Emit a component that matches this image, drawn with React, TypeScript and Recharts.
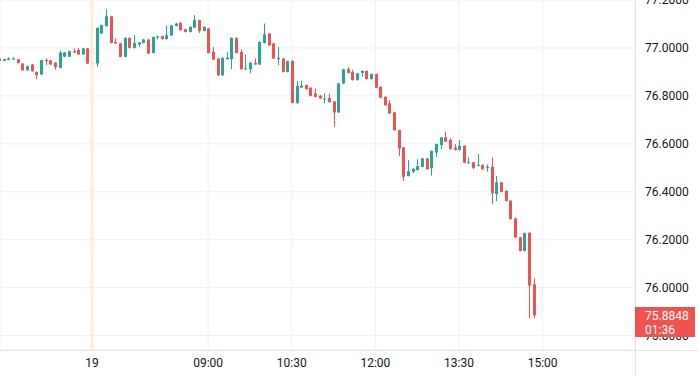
import React from "react";
import {
  ComposedChart,
  Bar,
  XAxis,
  YAxis,
  CartesianGrid,
  ReferenceLine,
} from "recharts";

// 5-minute candles
const OPEN = [
  76.956, 76.946, 76.95, 76.952, 76.953, 76.935, 76.907, 76.931, 76.9, 76.889,
  76.95, 76.948, 76.939, 76.917, 76.964, 76.964, 76.986, 76.992, 76.973, 76.998,
  76.935, 76.935, 77.06, 77.091, 77.132, 77.025, 77.019, 76.963, 77.042, 77.0,
  77.014, 77.021, 77.035, 76.979, 77.044, 77.049, 77.037, 77.052, 77.092, 77.104,
  77.078, 77.067, 77.085, 77.116, 77.071, 77.081, 76.984, 76.956, 76.886, 76.953,
  76.953, 77.042, 76.984, 76.911, 76.911, 76.938, 76.931, 77.021, 77.06, 77.019,
  76.953, 76.956, 76.9, 76.946, 76.771, 76.835, 76.845, 76.834, 76.81, 76.801,
  76.786, 76.792, 76.777, 76.731, 76.852, 76.911, 76.9, 76.866, 76.896, 76.904,
  76.87, 76.891, 76.838, 76.796, 76.769, 76.731, 76.657, 76.585, 76.466, 76.484,
  76.491, 76.504, 76.539, 76.498, 76.564, 76.595, 76.627, 76.616, 76.584, 76.574,
  76.592, 76.519, 76.523, 76.509, 76.512, 76.498, 76.504, 76.391, 76.439, 76.404,
  76.363, 76.289, 76.21, 76.153, 76.229, 76.014,
];
const HIGH = [
  76.958, 76.955, 76.961, 76.961, 76.955, 76.937, 76.926, 76.933, 76.902, 76.951,
  76.956, 76.95, 76.941, 76.989, 76.983, 76.988, 76.998, 77.0, 77.0, 77.0,
  76.937, 77.086, 77.097, 77.161, 77.134, 77.039, 77.021, 77.044, 77.044, 77.054,
  77.025, 77.037, 77.037, 77.048, 77.051, 77.051, 77.094, 77.096, 77.104, 77.11,
  77.08, 77.09, 77.137, 77.118, 77.09, 77.083, 77.004, 76.958, 76.961, 76.984,
  77.044, 77.044, 76.994, 76.973, 76.94, 76.956, 77.027, 77.102, 77.062, 77.021,
  77.004, 76.958, 76.947, 76.948, 76.863, 76.863, 76.847, 76.836, 76.831, 76.803,
  76.81, 76.81, 76.779, 76.854, 76.913, 76.919, 76.91, 76.896, 76.906, 76.906,
  76.893, 76.893, 76.84, 76.798, 76.782, 76.733, 76.659, 76.587, 76.532, 76.5,
  76.536, 76.541, 76.541, 76.572, 76.601, 76.629, 76.65, 76.623, 76.599, 76.616,
  76.594, 76.544, 76.525, 76.557, 76.514, 76.514, 76.544, 76.466, 76.441, 76.406,
  76.365, 76.291, 76.212, 76.229, 76.231, 76.039,
];
const LOW = [
  76.943, 76.945, 76.949, 76.951, 76.936, 76.905, 76.905, 76.901, 76.87, 76.887,
  76.928, 76.929, 76.909, 76.915, 76.962, 76.962, 76.979, 76.971, 76.971, 76.933,
  76.932, 76.921, 77.058, 77.089, 77.019, 77.017, 76.961, 76.961, 76.998, 76.998,
  77.004, 77.019, 76.975, 76.977, 77.035, 77.035, 77.035, 77.05, 77.09, 77.072,
  77.065, 77.065, 77.083, 77.063, 77.069, 76.977, 76.95, 76.884, 76.884, 76.951,
  76.911, 76.977, 76.909, 76.909, 76.894, 76.929, 76.929, 77.019, 77.009, 76.954,
  76.928, 76.898, 76.898, 76.769, 76.766, 76.833, 76.826, 76.798, 76.794, 76.787,
  76.768, 76.772, 76.671, 76.729, 76.85, 76.894, 76.864, 76.864, 76.879, 76.868,
  76.868, 76.832, 76.79, 76.759, 76.725, 76.655, 76.549, 76.446, 76.464, 76.477,
  76.489, 76.502, 76.492, 76.467, 76.546, 76.578, 76.607, 76.576, 76.572, 76.572,
  76.519, 76.517, 76.495, 76.507, 76.492, 76.484, 76.349, 76.361, 76.398, 76.36,
  76.284, 76.207, 76.151, 76.151, 75.873, 75.873,
];
const CLOSE = [
  76.945, 76.953, 76.956, 76.956, 76.937, 76.907, 76.924, 76.903, 76.886, 76.949,
  76.945, 76.931, 76.92, 76.981, 76.981, 76.986, 76.981, 76.973, 76.998, 76.935,
  76.934, 77.084, 77.095, 77.132, 77.021, 77.019, 76.963, 77.042, 77.0, 77.021,
  77.023, 77.035, 76.977, 77.046, 77.049, 77.037, 77.053, 77.094, 77.102, 77.074,
  77.067, 77.088, 77.116, 77.071, 77.088, 76.979, 76.952, 76.886, 76.959, 76.959,
  77.042, 76.979, 76.911, 76.914, 76.938, 76.931, 77.025, 77.057, 77.011, 76.956,
  76.959, 76.9, 76.945, 76.771, 76.841, 76.843, 76.828, 76.8, 76.796, 76.789,
  76.789, 76.774, 76.731, 76.852, 76.911, 76.896, 76.866, 76.894, 76.904, 76.87,
  76.891, 76.834, 76.792, 76.761, 76.727, 76.657, 76.581, 76.463, 76.486, 76.495,
  76.507, 76.539, 76.494, 76.57, 76.599, 76.627, 76.609, 76.578, 76.574, 76.592,
  76.521, 76.523, 76.5, 76.512, 76.494, 76.504, 76.394, 76.439, 76.4, 76.362,
  76.286, 76.209, 76.153, 76.227, 76.009, 75.8848,
];

const TIME_TICKS = [20, 45, 63, 81, 99, 117];
const TIME_LABELS = ["19", "09:00", "10:30", "12:00", "13:30", "15:00"];
const PRICE_TICKS = [75.8, 76.0, 76.2, 76.4, 76.6, 76.8, 77.0, 77.2];
const DAY_START = 20;
const LAST_PRICE = "75.8848";
const COUNTDOWN = "01:36";

const UP = "#26a69a";
const DOWN = "#ef5350";
const FONT = "Roboto, 'DejaVu Sans', sans-serif";

const data = OPEN.map((o, i) => ({
  i,
  o,
  h: HIGH[i],
  l: LOW[i],
  c: CLOSE[i],
}));

function Candle(props: any) {
  const { x, y, width, height, payload } = props;
  if (!payload || x == null) return null;
  const top = height >= 0 ? y : y + height;
  const span = Math.abs(height);
  const range = payload.h - payload.l;
  const k = range > 0 ? span / range : 0;
  const py = (v: number) => top + (payload.h - v) * k;
  const col = payload.c >= payload.o ? UP : DOWN;
  const cx = Math.round(x + width / 2);
  const bTop = py(Math.max(payload.o, payload.c));
  const bBot = py(Math.min(payload.o, payload.c));
  const bh = Math.max(1, bBot - bTop);
  return (
    <g>
      <rect x={cx} y={top} width={1} height={span} fill={col} />
      <rect x={cx - 1} y={bTop} width={3} height={bh} fill={col} />
    </g>
  );
}

function PriceTick(props: any) {
  const { y, payload } = props;
  return (
    <text
      x={645}
      y={y}
      dy={4}
      textAnchor="start"
      fill="#131722"
      fontSize={12}
      fontFamily={FONT}
    >
      {Number(payload.value).toFixed(4)}
    </text>
  );
}

function TimeTick(props: any) {
  const { x, payload } = props;
  const idx = TIME_TICKS.indexOf(payload.value);
  return (
    <text
      x={x}
      y={363}
      dy={4}
      textAnchor="middle"
      fill="#131722"
      fontSize={12}
      fontFamily={FONT}
    >
      {TIME_LABELS[idx]}
    </text>
  );
}

export default function App() {
  return (
    <div
      style={{
        position: "fixed",
        left: 0,
        top: 0,
        width: 699,
        height: 376,
        background: "#fff",
        overflow: "hidden",
      }}
    >
      <ComposedChart
        width={699}
        height={376}
        data={data}
        margin={{ top: 0, right: 0, left: 0, bottom: 0 }}
      >
        <CartesianGrid stroke="#eef0f4" />
        <XAxis
          dataKey="i"
          type="number"
          domain={[0.215, 136.88]}
          allowDataOverflow
          ticks={TIME_TICKS}
          interval={0}
          tick={<TimeTick />}
          axisLine={false}
          tickLine={false}
          height={26}
        />
        <YAxis
          orientation="right"
          width={64}
          domain={[75.74, 77.2]}
          allowDataOverflow
          ticks={PRICE_TICKS}
          interval={0}
          tick={<PriceTick />}
          axisLine={false}
          tickLine={false}
        />
        <ReferenceLine
          x={DAY_START}
          stroke="#fcecd8"
          strokeWidth={3}
        />
        <Bar
          dataKey={(d: any) => [d.l, d.h]}
          shape={Candle}
          barSize={3}
          isAnimationActive={false}
        />
      </ComposedChart>
      <div
        style={{
          position: "absolute",
          left: 635,
          top: 0,
          width: 1,
          height: 376,
          background: "#e0e3eb",
        }}
      />
      <div
        style={{
          position: "absolute",
          left: 0,
          top: 350,
          width: 699,
          height: 1,
          background: "#e0e3eb",
        }}
      />
      <div
        style={{
          position: "absolute",
          left: 635,
          top: 307,
          width: 60,
          height: 30,
          background: DOWN,
          color: "#fff",
          fontFamily: FONT,
          fontSize: 12,
          lineHeight: "14px",
          paddingTop: 2,
          paddingLeft: 10,
          boxSizing: "border-box",
        }}
      >
        <div>{LAST_PRICE}</div>
        <div>{COUNTDOWN}</div>
      </div>
    </div>
  );
}
